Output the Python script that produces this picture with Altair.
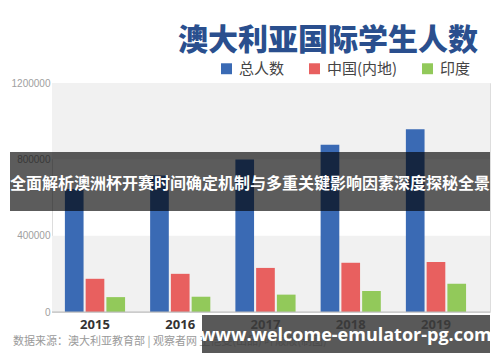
import altair as alt
import pandas as pd

years = ["2015", "2016", "2017", "2018", "2019"]
series = ["总人数", "中国(内地)", "印度"]
total = [645000, 715000, 799000, 876000, 957000]
china = [174000, 200000, 231000, 258000, 262000]
india = [78000, 80000, 91000, 110000, 148000]
colors = ["#3a6ab4", "#e8605f", "#92c95a"]
y_ticks = [0, 400000, 800000, 1200000]
title_text = "澳大利亚国际学生人数"
source_text = "数据来源：澳大利亚教育部  |  观察者网 王恺雯(出品) 叶顺顺(制图)"
banner_text = "全面解析澳洲杯开赛时间确定机制与多重关键影响因素深度探秘全景"
watermark_text = "www.welcome-emulator-pg.com"

rows = []
for i, y in enumerate(years):
    for s, vals in zip(series, [total, china, india]):
        rows.append({"year": y, "series": s, "value": vals[i]})
df = pd.DataFrame(rows)
bands = pd.DataFrame({"lo": [0, 800000], "hi": [400000, 1200000]})

W, H = 438, 229
FONT = "Noto Sans CJK SC"

yscale = alt.Scale(domain=[0, 1200000], nice=False)

band_layer = alt.Chart(bands).mark_rect(color="#f1f1f1").encode(
    x=alt.value(0), x2=alt.value(W),
    y=alt.Y("lo:Q", scale=yscale,
            axis=alt.Axis(values=y_ticks, format="d", title=None, grid=False, domain=False,
                          ticks=False, labelColor="#a0a0a0", labelFontSize=10,
                          labelFont="Liberation Sans", labelPadding=2)),
    y2="hi:Q",
)

bars = alt.Chart(df).mark_bar().encode(
    x=alt.X("year:N", sort=years,
            scale=alt.Scale(paddingInner=0.294, paddingOuter=0.216, align=0.35),
            axis=alt.Axis(title=None, labelAngle=0, ticks=False, domain=False,
                          labelFontWeight="bold", labelFontSize=13, labelColor="#333333",
                          labelFont="Open Sans", labelPadding=6)),
    xOffset=alt.XOffset("series:N", sort=series, scale=alt.Scale(paddingInner=0.1)),
    y=alt.Y("value:Q", scale=yscale),
    color=alt.Color("series:N", sort=series,
                    scale=alt.Scale(domain=series, range=colors),
                    legend=alt.Legend(title=None, orient="none", direction="horizontal",
                                      legendX=167, legendY=-22, symbolType="square",
                                      symbolSize=120, symbolOpacity=1, labelFontSize=15,
                                      labelFont=FONT, labelColor="#444444",
                                      columnPadding=22, labelOffset=5)),
)

baseline = alt.Chart(pd.DataFrame({"v": [0]})).mark_rule(color="#bbbbbb", strokeWidth=1).encode(
    x=alt.value(0), x2=alt.value(W), y=alt.Y("v:Q", scale=yscale)
)

def text_layer(txt, **kw):
    enc = {k: v for k, v in kw.items() if k in ("x", "y")}
    props = {k: v for k, v in kw.items() if k not in ("x", "y")}
    return alt.Chart(pd.DataFrame({"t": [txt]})).mark_text(**props).encode(
        text="t:N", x=alt.value(enc["x"]), y=alt.value(enc["y"]))

title = text_layer(title_text, x=426, y=-42, align="right", baseline="middle",
                   fontSize=30, fontWeight=900, font=FONT, color="#2a4f8e")
source = text_layer(source_text, x=-39, y=259, align="left", baseline="middle",
                    fontSize=11, font=FONT, color="#9a9a9a")

banner_rect = alt.Chart(pd.DataFrame({"t": [1]})).mark_rect(color="#000000", opacity=0.64).encode(
    x=alt.value(-42), x2=alt.value(W), y=alt.value(69), y2=alt.value(128))
banner = text_layer(banner_text, x=198, y=101, align="center", baseline="middle",
                    fontSize=16, fontWeight="bold", font=FONT, color="#ffffff")
wm_rect = alt.Chart(pd.DataFrame({"t": [1]})).mark_rect(color="#3c3c3c", opacity=0.85).encode(
    x=alt.value(150), x2=alt.value(W), y=alt.value(232), y2=alt.value(270))
wm = text_layer(watermark_text, x=294, y=253, align="center", baseline="middle",
                fontSize=18, fontWeight="bold", font="Open Sans", color="#ffffff")

chart = alt.layer(band_layer, bars, baseline, title, source, banner_rect, banner, wm_rect, wm).properties(
    width=W, height=H,
    autosize=alt.AutoSizeParams(type="none"),
    padding={"left": 44, "top": 75, "right": 2, "bottom": 50},
).configure_view(stroke=None).configure(background="#ffffff")

chart.save("out.html", embed_options={"renderer": "svg", "actions": False})
